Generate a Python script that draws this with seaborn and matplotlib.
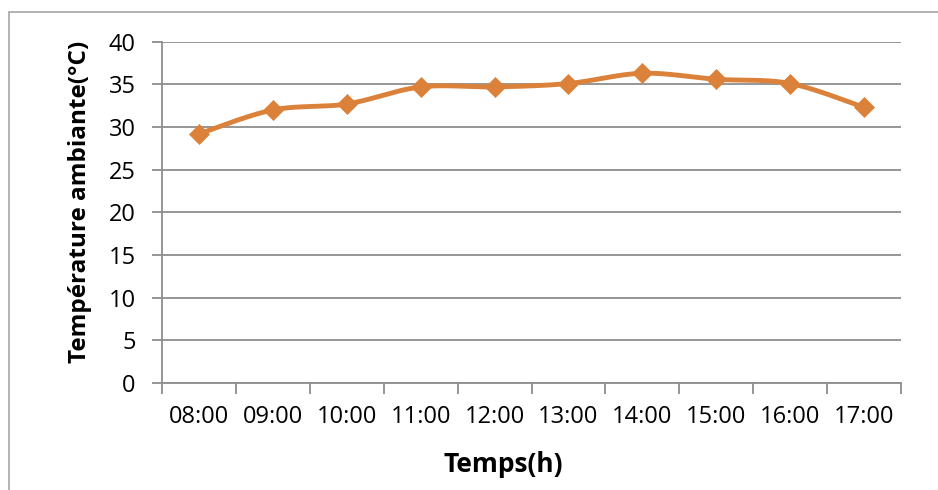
import numpy as np
import pandas as pd
import matplotlib
matplotlib.use("Agg")
import matplotlib.pyplot as plt
import seaborn as sns
from matplotlib.patches import Rectangle

# ---- data ----
hours = ["08:00", "09:00", "10:00", "11:00", "12:00",
         "13:00", "14:00", "15:00", "16:00", "17:00"]
temperature = [29.2, 32.0, 32.7, 34.7, 34.7, 35.1, 36.3, 35.6, 35.1, 32.3]
y_ticks = [0, 5, 10, 15, 20, 25, 30, 35, 40]

COLOR = "#DC8139"
GRID = "#8E8E8E"

sns.set_theme(style="white")
plt.rcParams["font.family"] = ["Open Sans", "DejaVu Sans"]
plt.rcParams["text.color"] = "black"


def smooth(xs, ys, n=24):
    """Excel-like smoothed line (Catmull-Rom / cubic Bezier)."""
    xs = np.asarray(xs, float)
    ys = np.asarray(ys, float)
    P = np.column_stack([xs, ys])
    out = []
    for i in range(len(P) - 1):
        p0 = P[i - 1] if i > 0 else P[i]
        p1 = P[i]
        p2 = P[i + 1]
        p3 = P[i + 2] if i + 2 < len(P) else P[i + 1]
        c1 = p1 + (p2 - p0) / 6.0
        c2 = p2 - (p3 - p1) / 6.0
        t = np.linspace(0, 1, n, endpoint=(i == len(P) - 2))[:, None]
        seg = ((1 - t) ** 3) * p1 + 3 * ((1 - t) ** 2) * t * c1 \
            + 3 * (1 - t) * t ** 2 * c2 + t ** 3 * p2
        out.append(seg)
    out = np.vstack(out)
    return out[:, 0], out[:, 1]


xpos = np.arange(len(hours))
df = pd.DataFrame({"x": xpos, "temp": temperature})
sx, sy = smooth(xpos, temperature)
curve = pd.DataFrame({"x": sx, "temp": sy})

fig = plt.figure(figsize=(9.38, 4.90), dpi=100)
ax = fig.add_axes([162 / 938, 1 - 383 / 490, (901 - 162) / 938, (383 - 41.7) / 490])

# outer chart border
fig.patches.append(Rectangle((9 / 938, -0.05), 1.2, 1 - 12 / 490 + 0.05,
                             transform=fig.transFigure, fill=False,
                             edgecolor="#A6A6A6", linewidth=1.2, zorder=0))

for v in y_ticks:
    ax.axhline(v, color=GRID, linewidth=1.3, zorder=1)

sns.lineplot(data=curve, x="x", y="temp", ax=ax, color=COLOR,
             linewidth=3.5, sort=False, zorder=3)
sns.scatterplot(data=df, x="x", y="temp", ax=ax, color=COLOR,
                marker="D", s=115, linewidth=0, zorder=4)

ax.set_xlim(-0.5, len(hours) - 0.5)
ax.set_ylim(0, 40)
ax.set_yticks(y_ticks)
ax.set_yticklabels([str(v) for v in y_ticks])

ax.set_xticks(np.arange(-0.5, len(hours), 1.0))
ax.set_xticklabels([])
ax.set_xticks(xpos, minor=True)
ax.set_xticklabels(hours, minor=True)

ax.tick_params(axis="x", which="major", direction="out", length=8,
               width=1.3, color=GRID, bottom=True)
ax.tick_params(axis="x", which="minor", length=0, pad=16,
               labelsize=17, labelcolor="black")
ax.tick_params(axis="y", direction="out", length=7, width=1.3,
               color=GRID, left=True, pad=12, labelsize=17,
               labelcolor="black")

for s in ["top", "right"]:
    ax.spines[s].set_visible(False)
ax.spines["left"].set_color(GRID)
ax.spines["left"].set_linewidth(1.3)
ax.spines["bottom"].set_color(GRID)
ax.spines["bottom"].set_linewidth(1.3)
ax.set_facecolor("white")
ax.set_xlabel("")
ax.set_ylabel("")

fig.text(503 / 938, 1 - 464 / 490, "Temps(h)", ha="center", va="center",
         fontsize=19, fontweight="bold", color="black")
fig.text(80 / 938, 1 - 202 / 490, "Température ambiante(°C)", ha="center",
         va="center", rotation=90, fontsize=17.5, fontweight="bold",
         color="black")

fig.savefig("out.png", dpi=100, facecolor="white")
